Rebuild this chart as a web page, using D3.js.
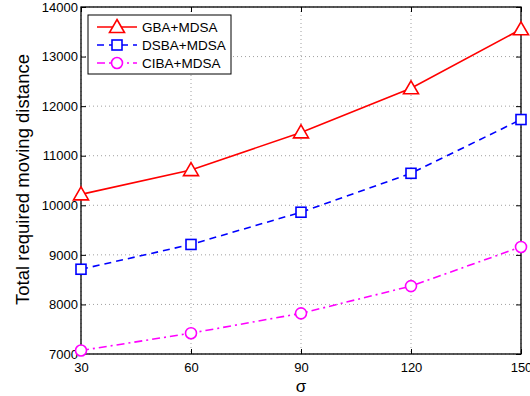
<!DOCTYPE html>
<html>
<head>
<meta charset="utf-8">
<script src="https://cdn.jsdelivr.net/npm/d3@7"></script>
<style>
  html, body { margin: 0; padding: 0; background: #fff; }
  svg { display: block; font-family: "Liberation Sans", Arial, Helvetica, sans-serif; }
</style>
</head>
<body>
<svg id="chart" width="530" height="396"></svg>
<script>
// σ values on the x axis
const sigma = [30, 60, 90, 120, 150];
// Total required moving distance for each scheme
const gbaMdsa  = [10220, 10710, 11470, 12360, 13550];
const dsbaMdsa = [8710, 9210, 9860, 10645, 11730];
const cibaMdsa = [7070, 7420, 7820, 8370, 9160];
const seriesNames = ["GBA+MDSA", "DSBA+MDSA", "CIBA+MDSA"];
const yTicks = [7000, 8000, 9000, 10000, 11000, 12000, 13000, 14000];

const svg = d3.select("#chart");
const m = { left: 81, right: 521, top: 7, bottom: 354 };

const x = d3.scaleLinear().domain([30, 150]).range([m.left, m.right]);
const y = d3.scaleLinear().domain([7000, 14000]).range([m.bottom, m.top]);

// dotted grid
const grid = svg.append("g").attr("stroke", "#888").attr("stroke-width", 0.8)
  .attr("stroke-dasharray", "1,3");
sigma.forEach(v => grid.append("line")
  .attr("x1", x(v)).attr("x2", x(v)).attr("y1", m.top).attr("y2", m.bottom));
yTicks.forEach(v => grid.append("line")
  .attr("x1", m.left).attr("x2", m.right).attr("y1", y(v)).attr("y2", y(v)));

// axes with inward ticks
const tickLen = 5;
const xAxis = svg.append("g").attr("transform", `translate(0,${m.bottom})`)
  .call(d3.axisBottom(x).tickValues(sigma).tickSizeInner(-tickLen).tickSizeOuter(0).tickPadding(9));
const yAxis = svg.append("g").attr("transform", `translate(${m.left},0)`)
  .call(d3.axisLeft(y).tickValues(yTicks).tickFormat(d3.format("d")).tickSizeInner(-tickLen).tickSizeOuter(0).tickPadding(3));
const xTop = svg.append("g").attr("transform", `translate(0,${m.top})`)
  .call(d3.axisTop(x).tickValues(sigma).tickSizeInner(-tickLen).tickSizeOuter(0).tickFormat(""));
const yRight = svg.append("g").attr("transform", `translate(${m.right},0)`)
  .call(d3.axisRight(y).tickValues(yTicks).tickSizeInner(-tickLen).tickSizeOuter(0).tickFormat(""));
[xAxis, yAxis, xTop, yRight].forEach(g => {
  g.select(".domain").remove();
  g.selectAll("line").attr("stroke", "#000").attr("stroke-width", 1);
  g.selectAll("text").attr("fill", "#000").attr("font-size", 13)
    .attr("font-family", "Liberation Sans, Arial, sans-serif");
});

// plot box
svg.append("rect").attr("x", m.left).attr("y", m.top)
  .attr("width", m.right - m.left).attr("height", m.bottom - m.top)
  .attr("fill", "none").attr("stroke", "#000").attr("stroke-width", 1.3);

// axis titles
svg.append("text").attr("x", (m.left + m.right) / 2).attr("y", 392)
  .attr("text-anchor", "middle").attr("font-size", 17).text("σ");
svg.append("text").attr("transform", `translate(29,${(m.top + m.bottom) / 2 - 1}) rotate(-90)`)
  .attr("text-anchor", "middle").attr("font-size", 18.5).text("Total required moving distance");

const styles = [
  { data: gbaMdsa, color: "#ff0000", dash: null, marker: "triangle" },
  { data: dsbaMdsa, color: "#0000ff", dash: "7,5", marker: "square" },
  { data: cibaMdsa, color: "#ff00ff", dash: "8,4,2,4", marker: "circle" }
];

function drawMarker(g, type, cx, cy, color) {
  if (type === "triangle") {
    const h = 13, w = 15;
    g.append("path")
      .attr("d", `M${cx},${cy - h / 2 - 1}L${cx + w / 2},${cy + h / 2 - 1}L${cx - w / 2},${cy + h / 2 - 1}Z`)
      .attr("fill", "#fff").attr("stroke", color).attr("stroke-width", 1.6);
  } else if (type === "square") {
    g.append("rect").attr("x", cx - 5).attr("y", cy - 5).attr("width", 10).attr("height", 10)
      .attr("fill", "#fff").attr("stroke", color).attr("stroke-width", 1.6);
  } else {
    g.append("circle").attr("cx", cx).attr("cy", cy).attr("r", 5.5)
      .attr("fill", "#fff").attr("stroke", color).attr("stroke-width", 1.6);
  }
}

const line = d3.line().x((d, i) => x(sigma[i])).y(d => y(d));
styles.forEach(s => {
  svg.append("path").datum(s.data).attr("d", line)
    .attr("fill", "none").attr("stroke", s.color).attr("stroke-width", 1.6)
    .attr("stroke-dasharray", s.dash);
  const g = svg.append("g");
  s.data.forEach((v, i) => drawMarker(g, s.marker, x(sigma[i]), y(v), s.color));
});

// legend
const lg = svg.append("g");
lg.append("rect").attr("x", 88).attr("y", 15).attr("width", 143).attr("height", 59)
  .attr("fill", "#fff").attr("stroke", "#000").attr("stroke-width", 1);
styles.forEach((s, i) => {
  const ly = 27 + i * 18;
  lg.append("line").attr("x1", 97).attr("x2", 137).attr("y1", ly).attr("y2", ly)
    .attr("stroke", s.color).attr("stroke-width", 1.6).attr("stroke-dasharray", s.dash);
  drawMarker(lg, s.marker, 117, ly, s.color);
  lg.append("text").attr("x", 142).attr("y", ly + 5).attr("font-size", 13.5)
    .attr("fill", "#000").text(seriesNames[i]);
});
</script>
</body>
</html>
